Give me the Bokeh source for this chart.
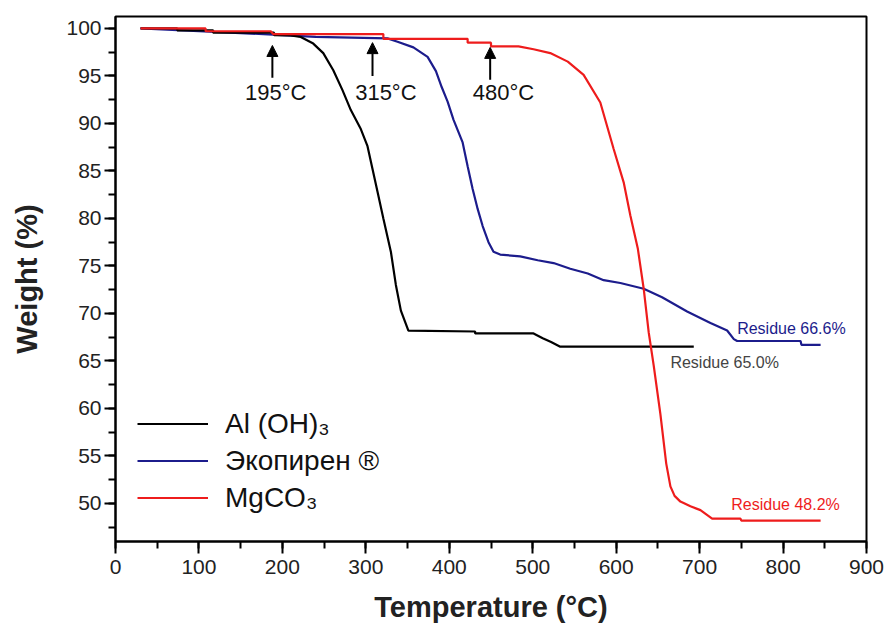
from bokeh.plotting import figure
from bokeh.models import (Range1d, SingleIntervalTicker, Legend, LegendItem, Label,
                          Arrow, NormalHead)
from bokeh.embed import file_html
from bokeh.resources import INLINE

# ---- data ----
black_x = [30, 74, 74, 117, 117, 190, 190, 210, 222, 237, 249, 261, 272, 282, 294, 302, 308,
           314, 321, 330, 336, 342, 351, 431, 431, 501, 512, 522, 533, 693]
black_y = [100.0, 100.0, 99.8, 99.8, 99.55, 99.55, 99.3, 99.25, 99.1, 98.4, 97.4, 95.6, 93.5,
           91.4, 89.4, 87.6, 85.2, 82.8, 80.0, 76.5, 73.0, 70.3, 68.2, 68.1, 67.9, 67.9, 67.4,
           67.0, 66.5, 66.5]

blue_x = [30, 100, 200, 240, 326, 338, 357, 374, 384, 391, 398, 405, 416, 422, 428, 434, 440,
          447, 453, 461, 485, 506, 525, 545, 566, 585, 605, 633, 655, 685, 713, 733, 741, 745,
          821, 822, 845]
blue_y = [100.0, 99.7, 99.3, 99.1, 98.95, 98.6, 98.0, 97.0, 95.5, 93.8, 92.3, 90.4, 88.0, 85.5,
          83.1, 81.0, 79.2, 77.5, 76.5, 76.2, 76.0, 75.6, 75.3, 74.7, 74.2, 73.5, 73.2, 72.6,
          71.7, 70.2, 69.0, 68.2, 67.3, 67.1, 67.1, 66.7, 66.7]

red_x = [30, 108, 108, 186, 189, 321, 321, 422, 422, 450, 450, 483, 501, 521, 542, 561, 581,
         597, 609, 617, 626, 633, 639, 645, 653, 660, 665, 670, 677, 689, 701, 715, 749, 750, 845]
red_y = [100.0, 100.0, 99.7, 99.7, 99.4, 99.4, 98.9, 98.9, 98.5, 98.5, 98.1, 98.1, 97.8, 97.4,
         96.5, 95.1, 92.2, 87.3, 83.8, 80.3, 76.8, 72.6, 68.0, 64.5, 59.4, 54.2, 51.8, 50.8,
         50.2, 49.7, 49.3, 48.4, 48.4, 48.2, 48.2]

series_names = ["Al (OH)\u2083", "\u042d\u043a\u043e\u043f\u0438\u0440\u0435\u043d \u00ae", "MgCO\u2083"]
onset_temps = [195, 315, 480]
onset_labels = ["195\u00b0C", "315\u00b0C", "480\u00b0C"]
arrow_x = [188, 308, 449]
arrow_tip = [98.2, 98.5, 98.0]
arrow_tail = [94.8, 95.0, 94.6]
onset_label_x = [192, 324, 465]
onset_label_y = 93.3

residue_texts = ["Residue 66.6%", "Residue 65.0%", "Residue 48.2%"]
residue_x = [745, 665, 738]
residue_y = [68.4, 64.8, 49.9]

BLACK = "#000000"
BLUE = "#1c1c8c"
RED = "#ee1c1c"
FONT = "Liberation Sans"

p = figure(width=884, height=625, output_backend="svg", toolbar_location=None,
           x_range=Range1d(0, 900), y_range=Range1d(46, 101.25),
           min_border_left=115, min_border_right=18, min_border_top=16, min_border_bottom=80,
           background_fill_color="white", border_fill_color="white")

p.grid.visible = False
p.outline_line_color = "black"
p.outline_line_width = 2

p.xaxis.ticker = SingleIntervalTicker(interval=100, num_minor_ticks=2)
p.yaxis.ticker = SingleIntervalTicker(interval=5, num_minor_ticks=2)

for ax in (p.xaxis, p.yaxis):
    ax.axis_line_width = 2
    ax.major_tick_line_width = 2
    ax.minor_tick_line_width = 2
    ax.major_tick_in = 0
    ax.minor_tick_in = 0
    ax.major_label_text_font = FONT
    ax.major_label_text_font_size = "21px"
    ax.major_label_text_color = "#222222"
    ax.axis_label_text_font = FONT
    ax.axis_label_text_font_style = "bold"
    ax.axis_label_text_color = "#222222"

p.xaxis.major_tick_out = 12
p.xaxis.minor_tick_out = 7
p.xaxis.major_label_standoff = 6
p.xaxis.axis_label = "Temperature (\u00b0C)"
p.xaxis.axis_label_text_font_size = "29px"
p.xaxis.axis_label_standoff = 14

p.yaxis.major_tick_out = 11
p.yaxis.minor_tick_out = 7
p.yaxis.major_label_standoff = 3
p.yaxis.axis_label = "Weight (%)"
p.yaxis.axis_label_text_font_size = "29px"
p.yaxis.axis_label_standoff = 20

r_blue = p.line(blue_x, blue_y, line_color=BLUE, line_width=2.2)
r_black = p.line(black_x, black_y, line_color=BLACK, line_width=2.2)
r_red = p.line(red_x, red_y, line_color=RED, line_width=2.2)

legend = Legend(items=[LegendItem(label=series_names[0], renderers=[r_black]),
                       LegendItem(label=series_names[1], renderers=[r_blue]),
                       LegendItem(label=series_names[2], renderers=[r_red])],
                location=(22, 25), orientation="vertical",
                label_text_font=FONT, label_text_font_size="28px", label_text_color="#111111",
                glyph_width=71, glyph_height=37, label_height=37, spacing=0,
                label_standoff=17, padding=0, margin=0,
                border_line_color=None, background_fill_alpha=0)
p.add_layout(legend)

for i in range(len(onset_temps)):
    p.add_layout(Arrow(end=NormalHead(size=11, fill_color="black", line_color="black"),
                       x_start=arrow_x[i], y_start=arrow_tail[i],
                       x_end=arrow_x[i], y_end=arrow_tip[i],
                       line_width=2, line_color="black"))
    p.add_layout(Label(x=onset_label_x[i], y=onset_label_y, text=onset_labels[i],
                       text_align="center", text_baseline="middle",
                       text_font=FONT, text_font_size="22px", text_color="#111111"))

res_colors = [BLUE, "#444444", RED]
for i in range(len(residue_texts)):
    p.add_layout(Label(x=residue_x[i], y=residue_y[i], text=residue_texts[i],
                       text_align="left", text_baseline="middle",
                       text_font=FONT, text_font_size="16px", text_color=res_colors[i]))

open("out.html", "w").write(file_html(p, INLINE))
